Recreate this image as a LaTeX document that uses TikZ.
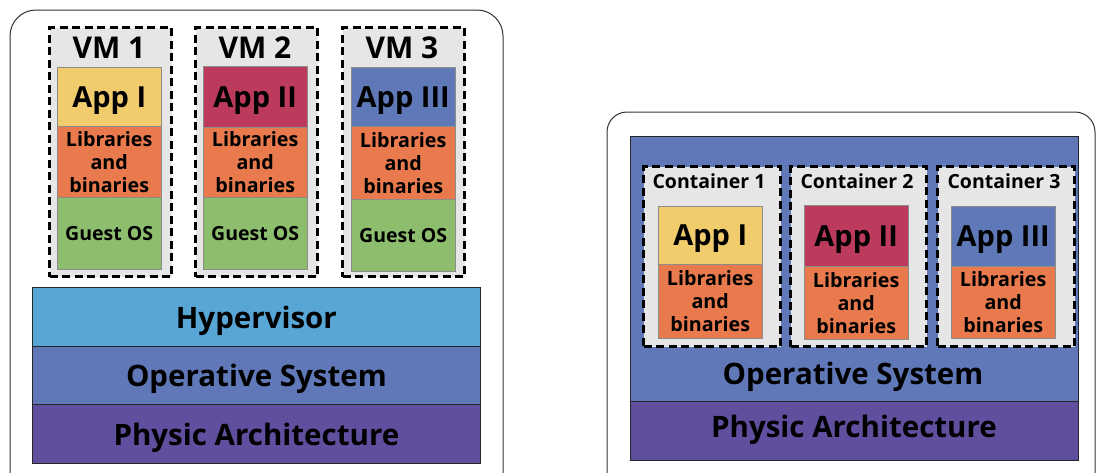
\documentclass[tikz,border=0pt]{standalone}
\usepackage{fontspec}
\setmainfont{Open Sans}
\definecolor{frameline}{HTML}{333333}
\definecolor{vmgray}{HTML}{E6E6E6}
\definecolor{appone}{HTML}{F0CC6C}
\definecolor{apptwo}{HTML}{BC3A5C}
\definecolor{appthree}{HTML}{5E78B8}
\definecolor{libs}{HTML}{E87A4E}
\definecolor{guest}{HTML}{8DBE6E}
\definecolor{hyper}{HTML}{58A6D6}
\definecolor{opsys}{HTML}{6078B8}
\definecolor{phys}{HTML}{604E9E}
\tikzset{
  bigfont/.style={font=\fontsize{29.5}{33}\selectfont\bfseries},
  layer/.style={draw=black!85, line width=0.8pt, anchor=north west, inner sep=0pt,
    text depth=0pt, bigfont},
  slab/.style={draw=black!45, line width=0.4pt, anchor=north west, inner sep=0pt, align=center},
  appbox/.style={slab, text depth=0pt, font=\fontsize{29}{33}\selectfont\bfseries},
  libbox/.style={slab, fill=libs, font=\fontsize{19.7}{23}\selectfont\bfseries},
  guestbox/.style={slab, fill=guest, font=\fontsize{19.5}{22}\selectfont\bfseries},
  unitbox/.style={fill=vmgray, draw=black, line width=3pt, dash pattern=on 8pt off 4.5pt,
    anchor=north west, inner sep=0pt},
  vmlabel/.style={font=\fontsize{30}{34}\selectfont\bfseries},
  ctlabel/.style={font=\fontsize{19.5}{22}\selectfont\bfseries},
}
\begin{document}
\begin{tikzpicture}[x=1pt,y=-1pt]
\useasboundingbox (0,0) rectangle (1096,472);
\clip (0,0) rectangle (1096,472);

% outer frames
\draw[frameline, line width=1pt, rounded corners=26pt] (10,10) rectangle (503,510);
\draw[frameline, line width=1pt, rounded corners=20pt] (607,112) rectangle (1095,510);

% ---------- virtual machines ----------
\node[unitbox, minimum width=122pt, minimum height=249pt] (vm1) at (48,26) {};
\node[unitbox, minimum width=122pt, minimum height=249pt] (vm2) at (194,26) {};
\node[unitbox, minimum width=122pt, minimum height=249pt] (vm3) at (341,26) {};
\node[vmlabel] (vm1t) at (109,48) {VM 1};
\node[vmlabel] (vm2t) at (255,48) {VM 2};
\node[vmlabel] (vm3t) at (402,48) {VM 3};

\node[appbox, fill=appone, minimum width=104pt, minimum height=59pt] (a1) at (57,67) {App I};
\node[libbox, minimum width=104pt, minimum height=71pt] (l1) at (57,126) {Libraries\\and\\binaries};
\node[guestbox, minimum width=104pt, minimum height=72pt] (g1) at (57,197) {Guest OS};

\node[appbox, fill=apptwo, minimum width=104pt, minimum height=61pt] (a2) at (203,66) {App II};
\node[libbox, minimum width=104pt, minimum height=70pt] (l2) at (203,127) {Libraries\\and\\binaries};
\node[guestbox, minimum width=104pt, minimum height=72pt] (g2) at (203,197) {Guest OS};

\node[appbox, fill=appthree, minimum width=104pt, minimum height=59pt] (a3) at (351,67) {App III};
\node[libbox, minimum width=104pt, minimum height=73pt] (l3) at (351,126) {Libraries\\and\\binaries};
\node[guestbox, minimum width=104pt, minimum height=72pt] (g3) at (351,199) {Guest OS};

% host stack
\node[layer, fill=hyper, minimum width=448pt, minimum height=59pt] (hv) at (32,287) {Hypervisor};
\node[layer, fill=opsys, minimum width=448pt, minimum height=58pt] (os1) at (32,346) {Operative System};
\node[layer, fill=phys, minimum width=448pt, minimum height=59pt] (pa1) at (32,404) {Physic Architecture};

% ---------- containers ----------
\node[layer, fill=opsys, minimum width=448pt, minimum height=265pt] (os2) at (630,136) {};
\node[layer, fill=phys, minimum width=448pt, minimum height=59pt] (pa2) at (630,401) {};
\node[bigfont, text depth=0pt] (os2t) at (853,373) {Operative System};
\node[bigfont, text depth=0pt] (pa2t) at (854,426) {Physic Architecture};

\node[unitbox, minimum width=137pt, minimum height=180pt] (c1) at (642,165) {};
\node[unitbox, minimum width=136pt, minimum height=180pt] (c2) at (789,165) {};
\node[unitbox, minimum width=137pt, minimum height=180pt] (c3) at (936,165) {};
\node[ctlabel] (c1t) at (709,181) {Container 1};
\node[ctlabel] (c2t) at (857,181) {Container 2};
\node[ctlabel] (c3t) at (1004,181) {Container 3};

\node[appbox, fill=appone, minimum width=104pt, minimum height=58pt] (ca1) at (658,206) {App I};
\node[libbox, minimum width=104pt, minimum height=74pt] (cl1) at (658,264) {Libraries\\and\\binaries};
\node[appbox, fill=apptwo, minimum width=104pt, minimum height=61pt] (ca2) at (804,205) {App II};
\node[libbox, minimum width=104pt, minimum height=73pt] (cl2) at (804,266) {Libraries\\and\\binaries};
\node[appbox, fill=appthree, minimum width=104pt, minimum height=60pt] (ca3) at (951,206) {App III};
\node[libbox, minimum width=104pt, minimum height=72pt] (cl3) at (951,266) {Libraries\\and\\binaries};
\end{tikzpicture}
\end{document}
